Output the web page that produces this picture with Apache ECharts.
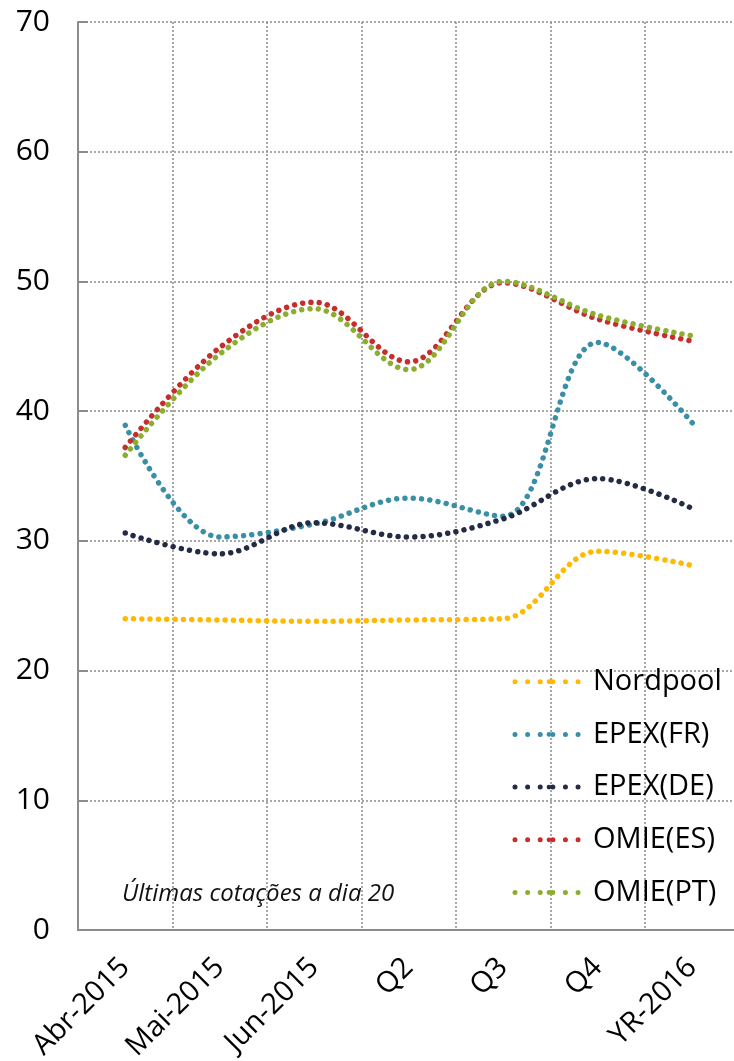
<!DOCTYPE html>
<html>
<head>
<meta charset="utf-8">
<script src="https://cdn.jsdelivr.net/npm/echarts@6/dist/echarts.min.js"></script>
<style>html,body{margin:0;padding:0;background:#fff}#c{width:734px;height:1061px}</style>
</head>
<body>
<div id="c"></div>
<script>
const categories = ['Abr-2015', 'Mai-2015', 'Jun-2015', 'Q2', 'Q3', 'Q4', 'YR-2016'];
const nordpool = [24.0, 23.9, 23.8, 23.9, 24.0, 29.2, 28.1];
const epexFR   = [38.9, 30.3, 31.3, 33.3, 31.9, 45.3, 39.1];
const epexDE   = [30.6, 29.0, 31.4, 30.3, 31.7, 34.8, 32.5];
const omieES   = [37.2, 44.9, 48.4, 43.8, 49.9, 47.1, 45.4];
const omiePT   = [36.6, 44.4, 47.9, 43.2, 50.0, 47.4, 45.8];
const seriesNames = ['Nordpool', 'EPEX(FR)', 'EPEX(DE)', 'OMIE(ES)', 'OMIE(PT)'];
const seriesColors = ['#FFB900', '#3A8FA8', '#232B45', '#C62D2D', '#8CAE2E'];
const seriesData = [nordpool, epexFR, epexDE, omieES, omiePT];
const note = 'Últimas cotações a dia 20';

const FONT = '"Open Sans", "Liberation Sans", sans-serif';
const GRAY = '#8c8c8c';

const chart = echarts.init(document.getElementById('c'), null, {renderer: 'canvas'});
chart.setOption({
  animation: false,
  backgroundColor: '#fff',
  textStyle: {fontFamily: FONT},
  grid: {left: 78, top: 22, width: 661.5, bottom: 131, containLabel: false, outerBoundsMode: 'none'},
  xAxis: {
    type: 'category',
    data: categories,
    boundaryGap: true,
    axisLine: {show: true, lineStyle: {color: GRAY, width: 2}},
    axisTick: {show: false},
    splitLine: {show: true, lineStyle: {color: GRAY, width: 1.5, type: [2, 2]}},
    axisLabel: {rotate: 45, margin: 33, fontSize: 29, color: '#000', fontFamily: FONT, interval: 0}
  },
  yAxis: {
    type: 'value',
    min: 0, max: 70, interval: 10,
    axisLine: {show: true, lineStyle: {color: GRAY, width: 2}},
    axisTick: {show: true, inside: true, length: 10, lineStyle: {color: GRAY, width: 2}},
    splitLine: {show: true, lineStyle: {color: GRAY, width: 1.5, type: [2, 2]}},
    axisLabel: {margin: 28, fontSize: 30, color: '#000', fontFamily: FONT}
  },
  legend: {
    orient: 'vertical',
    left: 512.5, top: 666.7,
    padding: 0,
    itemWidth: 68, itemHeight: 6,
    itemGap: 22.7,
    lineStyle: {width: 5, type: [0.01, 12.6], cap: 'round'},
    textStyle: {fontSize: 29, color: '#000', fontFamily: FONT, lineHeight: 30, padding: [0, 0, 0, 5]},
    data: seriesNames
  },
  graphic: [{
    type: 'text', left: 122, top: 882,
    style: {text: note, font: 'italic 24px ' + FONT, fill: '#111'}
  }],
  series: seriesData.map((d, i) => ({
    name: seriesNames[i],
    type: 'line',
    data: d,
    smooth: 0.35,
    showSymbol: false,
    symbol: 'none',
    color: seriesColors[i],
    itemStyle: {color: seriesColors[i]},
    lineStyle: {color: seriesColors[i], width: 5.5, type: [0.01, 8.3], cap: 'round'}
  }))
});
</script>
</body>
</html>
